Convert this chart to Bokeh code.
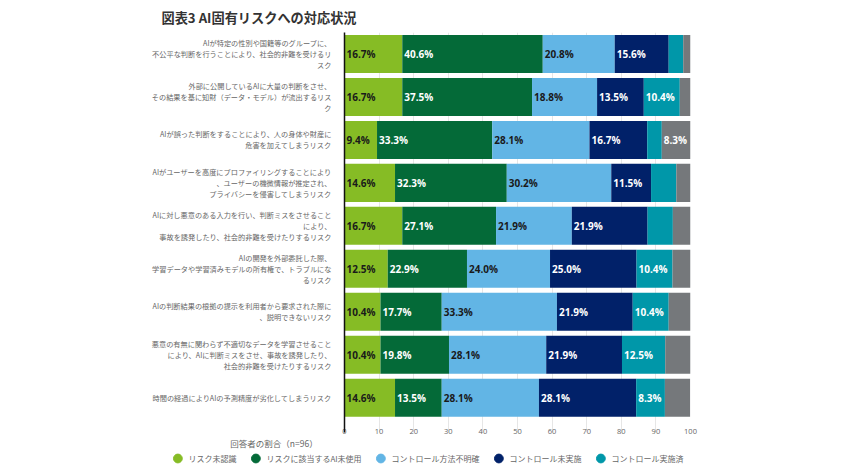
import numpy as np
from bokeh.plotting import figure
from bokeh.layouts import column
from bokeh.models import Range1d, FixedTicker, Legend, LegendItem
from bokeh.core.properties import value
from bokeh.embed import file_html
from bokeh.resources import INLINE

title_text = "図表3 AI固有リスクへの対応状況"
x_title = "回答者の割合（n=96）"

risks = [
    "AIが特定の性別や国籍等のグループに、\n不公平な判断を行うことにより、社会的非難を受けるリ\nスク",
    "外部に公開しているAIに大量の判断をさせ、\nその結果を基に知財（データ・モデル）が流出するリス\nク",
    "AIが誤った判断をすることにより、人の身体や財産に\n危害を加えてしまうリスク",
    "AIがユーザーを高度にプロファイリングすることにより\n、ユーザーの機微情報が推定され、\nプライバシーを侵害してしまうリスク",
    "AIに対し悪意のある入力を行い、判断ミスをさせること\nにより、\n事故を誘発したり、社会的非難を受けたりするリスク",
    "AIの開発を外部委託した際、\n学習データや学習済みモデルの所有権で、トラブルにな\nるリスク",
    "AIの判断結果の根拠の提示を利用者から要求された際に\n、説明できないリスク",
    "悪意の有無に関わらず不適切なデータを学習させること\nにより、AIに判断ミスをさせ、事故を誘発したり、\n社会的非難を受けたりするリスク",
    "時間の経過によりAIの予測精度が劣化してしまうリスク",
]

series_names = ["リスク未認識", "リスクに該当するAI未使用", "コントロール方法不明確",
                "コントロール未実施", "コントロール実施済", "その他"]
unaware = [16.7, 16.7, 9.4, 14.6, 16.7, 12.5, 10.4, 10.4, 14.6]
not_used = [40.6, 37.5, 33.3, 32.3, 27.1, 22.9, 17.7, 19.8, 13.5]
unclear = [20.8, 18.8, 28.1, 30.2, 21.9, 24.0, 33.3, 28.1, 28.1]
not_impl = [15.6, 13.5, 16.7, 11.5, 21.9, 25.0, 21.9, 21.9, 28.1]
implemented = [4.2, 10.4, 4.2, 7.3, 7.3, 10.4, 10.4, 12.5, 8.3]
other = [2.1, 3.1, 8.3, 4.2, 5.2, 5.2, 6.3, 7.3, 7.3]
x_ticks = [0, 10, 20, 30, 40, 50, 60, 70, 80, 90, 100]

series = [unaware, not_used, unclear, not_impl, implemented, other]
colors = ["#86BC25", "#046A38", "#62B5E5", "#012169", "#0097A9", "#75787B"]
text_colors = ["#1a1a1a", "#ffffff", "#1a1a1a", "#ffffff", "#ffffff", "#ffffff"]

jp = "Noto Sans CJK JP"
n = len(risks)
ys = [n - 1 - i for i in range(n)]

# ---------------- main chart ----------------
p = figure(width=850, height=436, output_backend="svg", toolbar_location=None,
           x_range=Range1d(0, 100), y_range=Range1d(-0.81, 8.5),
           min_border_left=344, min_border_right=160,
           min_border_top=32, min_border_bottom=0)
p.outline_line_color = None
p.frame_align = False

p.title.text = title_text
p.title.align = "left"
p.title.offset = -183
p.title.text_font = jp
p.title.text_font_style = "bold"
p.title.text_font_size = "13.2px"
p.title.text_color = "#333333"
p.title.standoff = 11

left = np.zeros(n)
for vals, col, tcol in zip(series, colors, text_colors):
    v = np.array(vals)
    p.hbar(y=ys, left=left, right=left + v, height=0.885,
           fill_color=col, line_color=None)
    idx = [i for i in range(n) if v[i] >= 8]
    p.text(x=[left[i] for i in idx], y=[ys[i] for i in idx],
           text=[f"{v[i]:.1f}%" for i in idx],
           x_offset=2, text_align="left", text_baseline="middle",
           text_color=tcol, text_font=value("Open Sans"),
           text_font_style="bold", text_font_size="10px")
    left = left + v

p.yaxis.ticker = FixedTicker(ticks=ys)
p.yaxis.major_label_overrides = {y: r for y, r in zip(ys, risks)}
p.yaxis.major_tick_line_color = None
p.yaxis.minor_tick_line_color = None
p.yaxis.axis_line_color = "#111111"
p.yaxis.axis_line_width = 1.5
p.yaxis.major_label_standoff = 7
p.yaxis.major_label_text_font = jp
p.yaxis.major_label_text_font_size = "7.2px"
p.yaxis.major_label_text_color = "#666666"
p.yaxis.major_label_text_line_height = 1.1

p.xaxis.ticker = FixedTicker(ticks=x_ticks)
p.xaxis.axis_line_color = None
p.xaxis.major_tick_line_color = None
p.xaxis.minor_tick_line_color = None
p.xaxis.major_label_standoff = -10
p.xaxis.major_label_text_font = "Open Sans"
p.xaxis.major_label_text_font_size = "7.5px"
p.xaxis.major_label_text_color = "#666666"

p.ygrid.grid_line_color = None
p.xgrid.grid_line_color = "#e6e6e6"
p.xgrid.grid_line_width = 1

# ---------------- footer: axis title + legend ----------------
f = figure(width=850, height=34, output_backend="svg", toolbar_location=None,
           x_range=Range1d(0, 850), y_range=Range1d(34, 0),
           min_border=0, min_border_left=0, min_border_right=0,
           min_border_top=0, min_border_bottom=0)
f.frame_align = False
f.axis.visible = False
f.grid.visible = False
f.outline_line_color = None
f.title.visible = False

f.text(x=[273.5], y=[6], text=[x_title], text_align="center",
       text_baseline="middle", text_font=value(jp), text_font_size="8.5px",
       text_color="#666666")

items = []
for name, col in zip(series_names[:5], colors[:5]):
    r = f.scatter(x=[np.nan], y=[np.nan], marker="circle", size=12,
                  fill_color=col, line_color=col)
    items.append(LegendItem(label=name, renderers=[r], index=0))
legend = Legend(items=items, orientation="horizontal", location="bottom_center",
                label_text_font=jp, label_text_font_size="8px",
                label_text_color="#666666", glyph_width=22, glyph_height=22,
                label_standoff=0, spacing=8, padding=0, margin=1,
                border_line_color=None, background_fill_alpha=0)
f.add_layout(legend, "center")

layout = column(p, f, spacing=0)
open("out.html", "w").write(file_html(layout, INLINE))
